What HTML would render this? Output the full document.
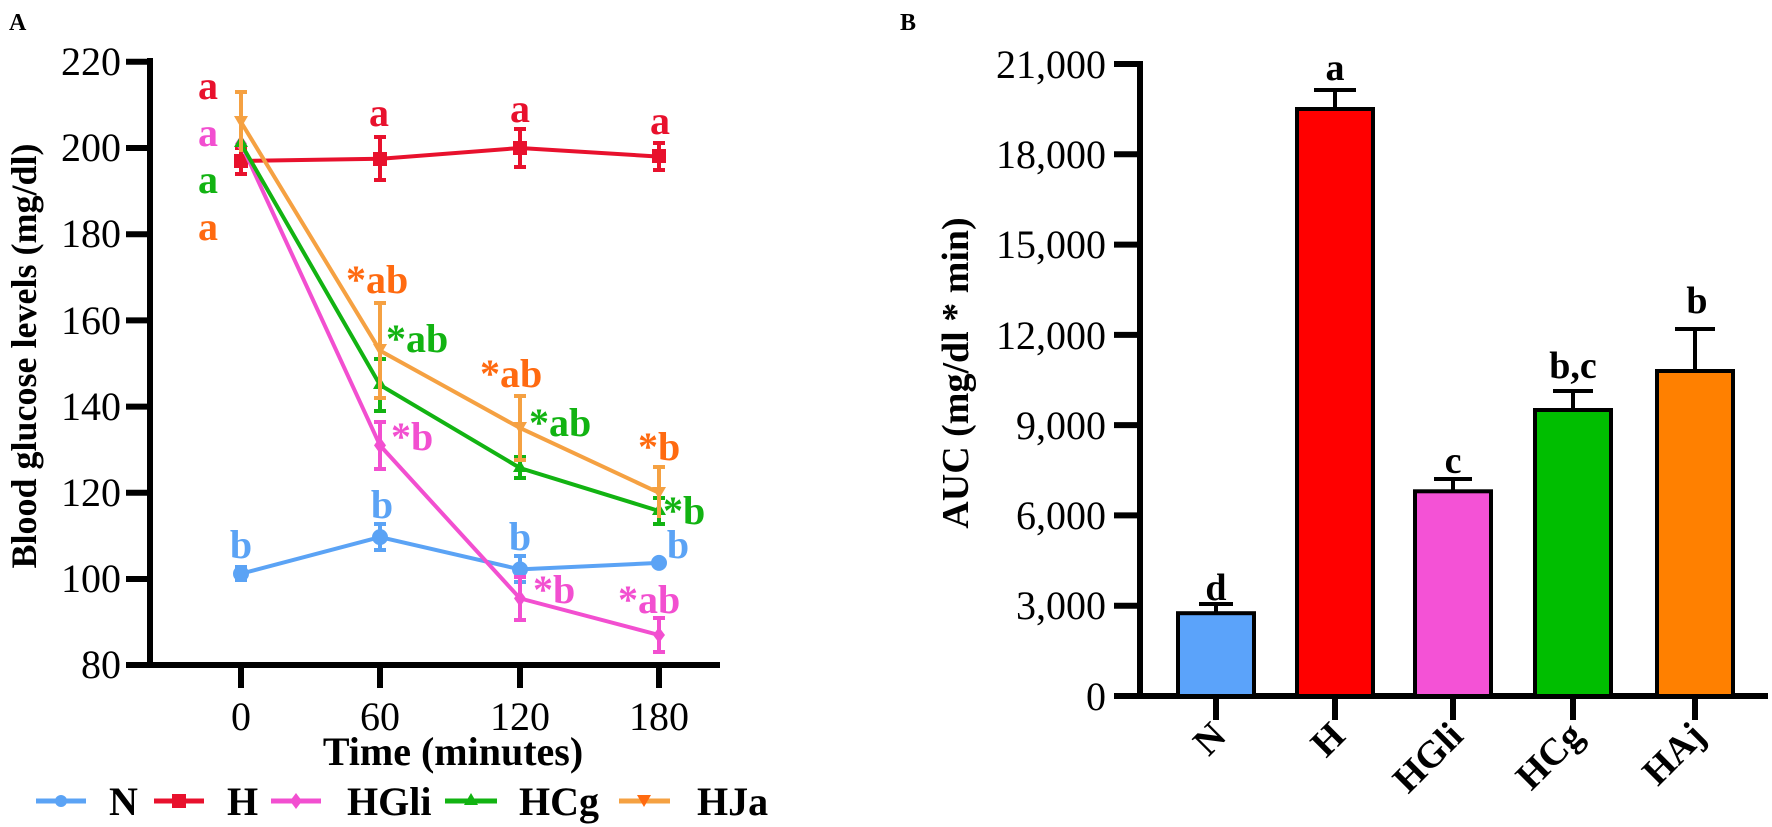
<!DOCTYPE html>
<html><head><meta charset="utf-8"><style>
html,body{margin:0;padding:0;background:#fff;}
svg{display:block;}
svg text{font-family:"Liberation Serif","DejaVu Serif",serif;}
</style></head><body>
<svg width="1772" height="827" viewBox="0 0 1772 827" xmlns="http://www.w3.org/2000/svg" font-family="'Liberation Serif', 'DejaVu Serif', serif">
<text x="9" y="30" font-size="24" font-weight="bold">A</text>
<text x="900" y="30" font-size="24" font-weight="bold">B</text>

<g stroke="#000" stroke-width="6" fill="none">
<line x1="150" y1="58" x2="150" y2="668"/>
<line x1="147" y1="665" x2="720" y2="665"/>
<line x1="126" y1="61.8" x2="150" y2="61.8"/>
<line x1="126" y1="148" x2="150" y2="148"/>
<line x1="126" y1="234.2" x2="150" y2="234.2"/>
<line x1="126" y1="320.4" x2="150" y2="320.4"/>
<line x1="126" y1="406.6" x2="150" y2="406.6"/>
<line x1="126" y1="492.8" x2="150" y2="492.8"/>
<line x1="126" y1="579" x2="150" y2="579"/>
<line x1="126" y1="665" x2="150" y2="665"/>
<line x1="241" y1="665" x2="241" y2="688"/>
<line x1="380" y1="665" x2="380" y2="688"/>
<line x1="520" y1="665" x2="520" y2="688"/>
<line x1="659" y1="665" x2="659" y2="688"/>
</g>
<g font-size="40" text-anchor="end">
<text x="121" y="75">220</text>
<text x="121" y="161">200</text>
<text x="121" y="247">180</text>
<text x="121" y="334">160</text>
<text x="121" y="420">140</text>
<text x="121" y="506">120</text>
<text x="121" y="592">100</text>
<text x="121" y="678">80</text>
</g>
<g font-size="40" text-anchor="middle">
<text x="241" y="730">0</text>
<text x="380" y="730">60</text>
<text x="520" y="730">120</text>
<text x="659" y="730">180</text>
</g>
<text x="453" y="765" font-size="40" font-weight="bold" text-anchor="middle">Time (minutes)</text>
<text transform="translate(36,356) rotate(-90)" font-size="36" font-weight="bold" text-anchor="middle">Blood glucose levels (mg/dl)</text>

<g stroke="#5BA3F5" stroke-width="4" fill="#5BA3F5">
<polyline fill="none" points="241,573.7 380,537.1 520,569.4 659,562.9"/>
<line x1="241" y1="567" x2="241" y2="580"/><line x1="235" y1="567" x2="247" y2="567"/><line x1="235" y1="580" x2="247" y2="580"/>
<line x1="380" y1="524" x2="380" y2="550"/><line x1="374" y1="524" x2="386" y2="524"/><line x1="374" y1="550" x2="386" y2="550"/>
<line x1="520" y1="556" x2="520" y2="582"/><line x1="514" y1="556" x2="526" y2="556"/><line x1="514" y1="582" x2="526" y2="582"/>
<circle cx="241" cy="573.7" r="6"/><circle cx="380" cy="537.1" r="6"/><circle cx="520" cy="569.4" r="6"/><circle cx="659" cy="562.9" r="6"/>
</g>
<g stroke="#E8112D" stroke-width="4" fill="#E8112D">
<polyline fill="none" points="241,161 380,158.8 520,148 659,156.6"/>
<line x1="241" y1="148" x2="241" y2="174"/><line x1="235" y1="148" x2="247" y2="148"/><line x1="235" y1="174" x2="247" y2="174"/>
<line x1="380" y1="137" x2="380" y2="180"/><line x1="374" y1="137" x2="386" y2="137"/><line x1="374" y1="180" x2="386" y2="180"/>
<line x1="520" y1="129" x2="520" y2="167"/><line x1="514" y1="129" x2="526" y2="129"/><line x1="514" y1="167" x2="526" y2="167"/>
<line x1="659" y1="143" x2="659" y2="170"/><line x1="653" y1="143" x2="665" y2="143"/><line x1="653" y1="170" x2="665" y2="170"/>
<rect x="234" y="154" width="14" height="14" stroke="none"/><rect x="373" y="152" width="14" height="14" stroke="none"/><rect x="513" y="141" width="14" height="14" stroke="none"/><rect x="652" y="149" width="14" height="14" stroke="none"/>
</g>
<g stroke="#F24FD0" stroke-width="4" fill="#F24FD0">
<polyline fill="none" points="241,143.7 380,445.4 520,598.4 659,635"/>
<line x1="380" y1="422" x2="380" y2="469"/><line x1="374" y1="422" x2="386" y2="422"/><line x1="374" y1="469" x2="386" y2="469"/>
<line x1="520" y1="577" x2="520" y2="620"/><line x1="514" y1="577" x2="526" y2="577"/><line x1="514" y1="620" x2="526" y2="620"/>
<line x1="659" y1="618" x2="659" y2="652"/><line x1="653" y1="618" x2="665" y2="618"/><line x1="653" y1="652" x2="665" y2="652"/>
<path stroke="none" d="M241,135 l6,8.7 l-6,8.7 l-6,-8.7z M380,437 l6,8.4 l-6,8.4 l-6,-8.4z M520,590 l6,8.4 l-6,8.4 l-6,-8.4z M659,627 l6,8 l-6,8 l-6,-8z"/>
</g>
<g stroke="#12B312" stroke-width="4" fill="#12B312">
<polyline fill="none" points="241,143.7 380,385 520,468 659,511"/>
<line x1="380" y1="359" x2="380" y2="411"/><line x1="374" y1="359" x2="386" y2="359"/><line x1="374" y1="411" x2="386" y2="411"/>
<line x1="520" y1="457" x2="520" y2="478"/><line x1="514" y1="457" x2="526" y2="457"/><line x1="514" y1="478" x2="526" y2="478"/>
<line x1="659" y1="498" x2="659" y2="524"/><line x1="653" y1="498" x2="665" y2="498"/><line x1="653" y1="524" x2="665" y2="524"/>
<path stroke="none" d="M241,135 l7,12 h-14z M380,377 l7,12 h-14z M520,460 l7,12 h-14z M659,503 l7,12 h-14z"/>
</g>
<g stroke="#F5A142" stroke-width="4" fill="#F5A142">
<polyline fill="none" points="241,122 380,350.6 520,428 659,492.8"/>
<line x1="241" y1="92" x2="241" y2="152"/><line x1="235" y1="92" x2="247" y2="92"/>
<line x1="380" y1="303" x2="380" y2="398"/><line x1="374" y1="303" x2="386" y2="303"/><line x1="374" y1="398" x2="386" y2="398"/>
<line x1="520" y1="396" x2="520" y2="460"/><line x1="514" y1="396" x2="526" y2="396"/><line x1="514" y1="460" x2="526" y2="460"/>
<line x1="659" y1="467" x2="659" y2="518"/><line x1="653" y1="467" x2="665" y2="467"/>
<path stroke="none" d="M234,116 h14 l-7,12z M373,344 h14 l-7,12z M513,422 h14 l-7,12z M652,487 h14 l-7,12z"/>
</g>

<g font-size="40" font-weight="bold">
<g fill="#E8112D" text-anchor="middle"><text x="208" y="99">a</text><text x="379" y="126">a</text><text x="520" y="122">a</text><text x="660" y="134">a</text></g>
<text x="208" y="146" fill="#F24FD0" text-anchor="middle">a</text>
<text x="208" y="193" fill="#12B312" text-anchor="middle">a</text>
<text x="208" y="240" fill="#FF6A10" text-anchor="middle">a</text>
<g fill="#FF6A10"><text x="346" y="293">*ab</text><text x="480" y="387">*ab</text><text x="638" y="460">*b</text></g>
<g fill="#12B312"><text x="386" y="352">*ab</text><text x="529" y="436">*ab</text><text x="663" y="524">*b</text></g>
<g fill="#F24FD0"><text x="391" y="450">*b</text><text x="533" y="603">*b</text><text x="618" y="613">*ab</text></g>
<g fill="#5BA3F5" text-anchor="middle"><text x="241" y="558">b</text><text x="382" y="518">b</text><text x="520" y="550">b</text><text x="678" y="558">b</text></g>
</g>

<g stroke-width="5">
<line x1="36" y1="801" x2="86" y2="801" stroke="#5BA3F5"/><circle cx="61" cy="801" r="6" fill="#5BA3F5"/>
<line x1="154" y1="801" x2="204" y2="801" stroke="#E8112D"/><rect x="172" y="794" width="14" height="14" fill="#E8112D"/>
<line x1="271" y1="801" x2="321" y2="801" stroke="#F24FD0"/><path d="M296,793 l6,8 l-6,8 l-6,-8z" fill="#F24FD0"/>
<line x1="445" y1="801" x2="497" y2="801" stroke="#12B312"/><path d="M471,793 l7,12 h-14z" fill="#12B312"/>
<line x1="619" y1="801" x2="670" y2="801" stroke="#F5A142"/><path d="M637,795 h14 l-7,12z" fill="#FF6A10"/>
</g>
<g font-size="40" font-weight="bold">
<text x="109" y="815">N</text><text x="227" y="815">H</text><text x="347" y="815">HGli</text><text x="519" y="815">HCg</text><text x="697" y="815">HJa</text>
</g>

<g stroke="#000" stroke-width="6" fill="none">
<line x1="1140" y1="61" x2="1140" y2="699"/>
<line x1="1137" y1="696" x2="1768" y2="696"/>
<line x1="1114" y1="64" x2="1140" y2="64"/>
<line x1="1114" y1="154.3" x2="1140" y2="154.3"/>
<line x1="1114" y1="244.6" x2="1140" y2="244.6"/>
<line x1="1114" y1="334.9" x2="1140" y2="334.9"/>
<line x1="1114" y1="425.1" x2="1140" y2="425.1"/>
<line x1="1114" y1="515.4" x2="1140" y2="515.4"/>
<line x1="1114" y1="605.7" x2="1140" y2="605.7"/>
<line x1="1114" y1="696" x2="1140" y2="696"/>
<line x1="1216" y1="696" x2="1216" y2="720"/>
<line x1="1335" y1="696" x2="1335" y2="720"/>
<line x1="1453" y1="696" x2="1453" y2="720"/>
<line x1="1573" y1="696" x2="1573" y2="720"/>
<line x1="1695" y1="696" x2="1695" y2="720"/>
</g>
<g font-size="40" text-anchor="end">
<text x="1106" y="78">21,000</text>
<text x="1106" y="168">18,000</text>
<text x="1106" y="258">15,000</text>
<text x="1106" y="349">12,000</text>
<text x="1106" y="439">9,000</text>
<text x="1106" y="529">6,000</text>
<text x="1106" y="619">3,000</text>
<text x="1106" y="710">0</text>
</g>
<text transform="translate(968,373) rotate(-90)" font-size="38" font-weight="bold" text-anchor="middle">AUC (mg/dl * min)</text>

<g stroke="#000" stroke-width="4">
<line x1="1216" y1="613" x2="1216" y2="604"/><line x1="1199" y1="604" x2="1233" y2="604"/>
<line x1="1335" y1="109" x2="1335" y2="90"/><line x1="1314" y1="90" x2="1356" y2="90"/>
<line x1="1453" y1="491" x2="1453" y2="479"/><line x1="1434" y1="479" x2="1472" y2="479"/>
<line x1="1573" y1="410" x2="1573" y2="391"/><line x1="1553" y1="391" x2="1593" y2="391"/>
<line x1="1695" y1="371" x2="1695" y2="329"/><line x1="1675" y1="329" x2="1715" y2="329"/>
<rect x="1178" y="613.2" width="76" height="82.8" fill="#5BA3FA"/>
<rect x="1297" y="109" width="76" height="587" fill="#FF0000"/>
<rect x="1415" y="491.3" width="76" height="204.7" fill="#F452D6"/>
<rect x="1535" y="410" width="76" height="286" fill="#00BE00"/>
<rect x="1657" y="371" width="76" height="325" fill="#FF8000"/>
</g>
<g font-size="38" font-weight="bold" text-anchor="middle">
<text x="1216" y="600">d</text>
<text x="1335" y="80">a</text>
<text x="1453" y="473">c</text>
<text x="1573" y="378">b,c</text>
<text x="1697" y="313">b</text>
</g>
<g font-size="38" font-weight="bold" text-anchor="end">
<text transform="translate(1228,738) rotate(-45)">N</text>
<text transform="translate(1347,738) rotate(-45)">H</text>
<text transform="translate(1465,738) rotate(-45)">HGli</text>
<text transform="translate(1585,738) rotate(-45)">HCg</text>
<text transform="translate(1707,738) rotate(-45)">HAj</text>
</g>
</svg>
</body></html>
